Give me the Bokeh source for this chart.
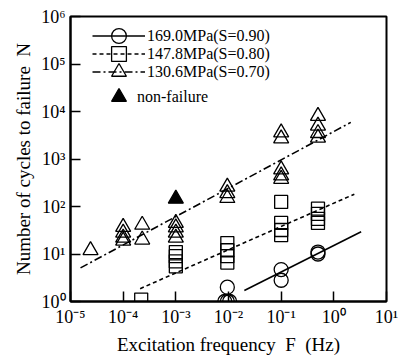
from bokeh.plotting import figure
from bokeh.models import (Legend, LegendItem, FixedTicker, CustomJSTickFormatter)
from bokeh.embed import file_html
from bokeh.resources import INLINE

# ---------------- data ----------------
# 169.0 MPa (S=0.90)  - circles
ci_F = [8.5e-3, 9.5e-3, 1.05e-2, 9.5e-3, 0.1, 0.1, 0.5, 0.5]
ci_N = [1.0, 1.0, 1.0, 2.0, 4.7, 2.8, 11, 10]
# 147.8 MPa (S=0.80)  - squares
sq_F = [2.2e-4, 1e-3, 1e-3, 1e-3, 1e-3, 9.5e-3, 9.5e-3, 9.5e-3, 9.5e-3,
        0.1, 0.1, 0.1, 0.1, 0.5, 0.5, 0.5, 0.5]
sq_N = [1.1, 11, 9, 7, 5.5, 17, 12, 9, 6.6, 125, 45, 32, 25, 90, 70, 55, 45]
# 130.6 MPa (S=0.70)  - triangles
tr_F = [2.4e-5, 1e-4, 1e-4, 1e-4, 1e-4, 2.3e-4, 2.3e-4, 1e-3, 1e-3, 1e-3, 1e-3,
        9.5e-3, 9.5e-3, 9.5e-3, 0.1, 0.1, 0.1, 0.1, 0.1, 0.5, 0.5, 0.5, 0.5]
tr_N = [12, 37, 28, 22, 19, 41, 20, 45, 36, 28, 22, 260, 190, 150,
        3600, 2700, 600, 450, 380, 8000, 5000, 3500, 2800]
# non-failure
nf_F = [1e-3]
nf_N = [145]
# regression lines (end points)
ci_fit_F = [0.02, 3.3]
ci_fit_N = [1.7, 29.5]
sq_fit_F = [2.1e-4, 2.45]
sq_fit_N = [1.86, 182]
tr_fit_F = [1.55e-5, 2.1]
tr_fit_N = [5.1, 5900]

x_exponents = [-5, -4, -3, -2, -1, 0, 1]
x_tick_labels = ["10\u207b\u2075", "10\u207b\u2074", "10\u207b\u00b3", "10\u207b\u00b2",
                 "10\u207b\u00b9", "10\u2070", "10\u00b9"]
y_exponents = [0, 1, 2, 3, 4, 5, 6]
y_tick_labels = ["10\u2070", "10\u00b9", "10\u00b2", "10\u00b3", "10\u2074", "10\u2075", "10\u2076"]

labels = ["169.0MPa(S=0.90)", "147.8MPa(S=0.80)", "130.6MPa(S=0.70)", "non-failure"]

FONT = "Liberation Serif"

p = figure(width=404, height=357, x_axis_type="log", y_axis_type="log",
           x_range=(1e-5, 1e1), y_range=(1e0, 1e6),
           output_backend="svg", toolbar_location=None,
           min_border_left=70, min_border_right=18, min_border_top=16, min_border_bottom=55)
p.grid.visible = False
p.background_fill_color = "white"
p.border_fill_color = "white"
p.outline_line_color = "black"
p.outline_line_width = 2
p.outline_line_alpha = 1

p.xaxis.ticker = FixedTicker(ticks=[10.0 ** e for e in x_exponents])
p.yaxis.ticker = FixedTicker(ticks=[10.0 ** e for e in y_exponents])
p.xaxis.formatter = CustomJSTickFormatter(
    args=dict(exps=x_exponents, labs=x_tick_labels),
    code="const e = Math.round(Math.log10(tick)); const i = exps.indexOf(e); return i >= 0 ? labs[i] : '';")
p.yaxis.formatter = CustomJSTickFormatter(
    args=dict(exps=y_exponents, labs=y_tick_labels),
    code="const e = Math.round(Math.log10(tick)); const i = exps.indexOf(e); return i >= 0 ? labs[i] : '';")

for ax in (p.xaxis, p.yaxis):
    ax.major_tick_in = 10
    ax.major_tick_out = 0
    ax.minor_tick_in = 0
    ax.minor_tick_out = 0
    ax.axis_line_width = 2
    ax.major_tick_line_width = 1.5
    ax.major_label_text_font = FONT
    ax.major_label_text_font_size = "18px"
    ax.major_label_text_color = "black"
    ax.axis_label_text_font = FONT
    ax.axis_label_text_font_size = "19px"
    ax.axis_label_text_font_style = "normal"
    ax.axis_label_text_color = "black"

p.xaxis.axis_label = "Excitation frequency \u00a0F \u00a0(Hz)"
p.yaxis.axis_label = "Number of cycles to failure \u00a0N"
p.xaxis.major_label_standoff = 5
p.yaxis.major_label_standoff = 5
p.xaxis.axis_label_standoff = 4
p.yaxis.axis_label_standoff = 4

# regression lines
l_ci = p.line(ci_fit_F, ci_fit_N, line_color="black", line_width=1.6)
l_sq = p.line(sq_fit_F, sq_fit_N, line_color="black", line_width=1.6, line_dash="4 3")
l_tr = p.line(tr_fit_F, tr_fit_N, line_color="black", line_width=1.6, line_dash="8 3 2 3")

# markers
s_ci = p.scatter(ci_F, ci_N, marker="circle", size=14, fill_color="white", fill_alpha=0,
                 line_color="black", line_width=1.3)
s_sq = p.scatter(sq_F, sq_N, marker="square", size=13, fill_color="white", fill_alpha=0,
                 line_color="black", line_width=1.3)
s_tr = p.scatter(tr_F, tr_N, marker="triangle", size=15, fill_color="white", fill_alpha=0,
                 line_color="black", line_width=1.3)
s_nf = p.scatter(nf_F, nf_N, marker="triangle", size=15, fill_color="black",
                 line_color="black", line_width=1.3)


def one_row_legend(label, renderers, loc, gw, standoff):
    return Legend(items=[LegendItem(label=label, renderers=renderers)],
                  location=loc, glyph_width=gw, glyph_height=37,
                  label_standoff=standoff, padding=0, margin=0,
                  background_fill_alpha=0, border_line_alpha=0,
                  label_text_font=FONT, label_text_font_size="16px",
                  label_text_color="black")


p.add_layout(one_row_legend(labels[0], [l_ci, s_ci], (22, 247), 53, 2))
p.add_layout(one_row_legend(labels[1], [l_sq, s_sq], (22, 229), 53, 2))
p.add_layout(one_row_legend(labels[2], [l_tr, s_tr], (22, 211), 53, 2))
p.add_layout(one_row_legend(labels[3], [s_nf], (30, 186), 37, -11))

open("out.html", "w").write(file_html(p, INLINE))
